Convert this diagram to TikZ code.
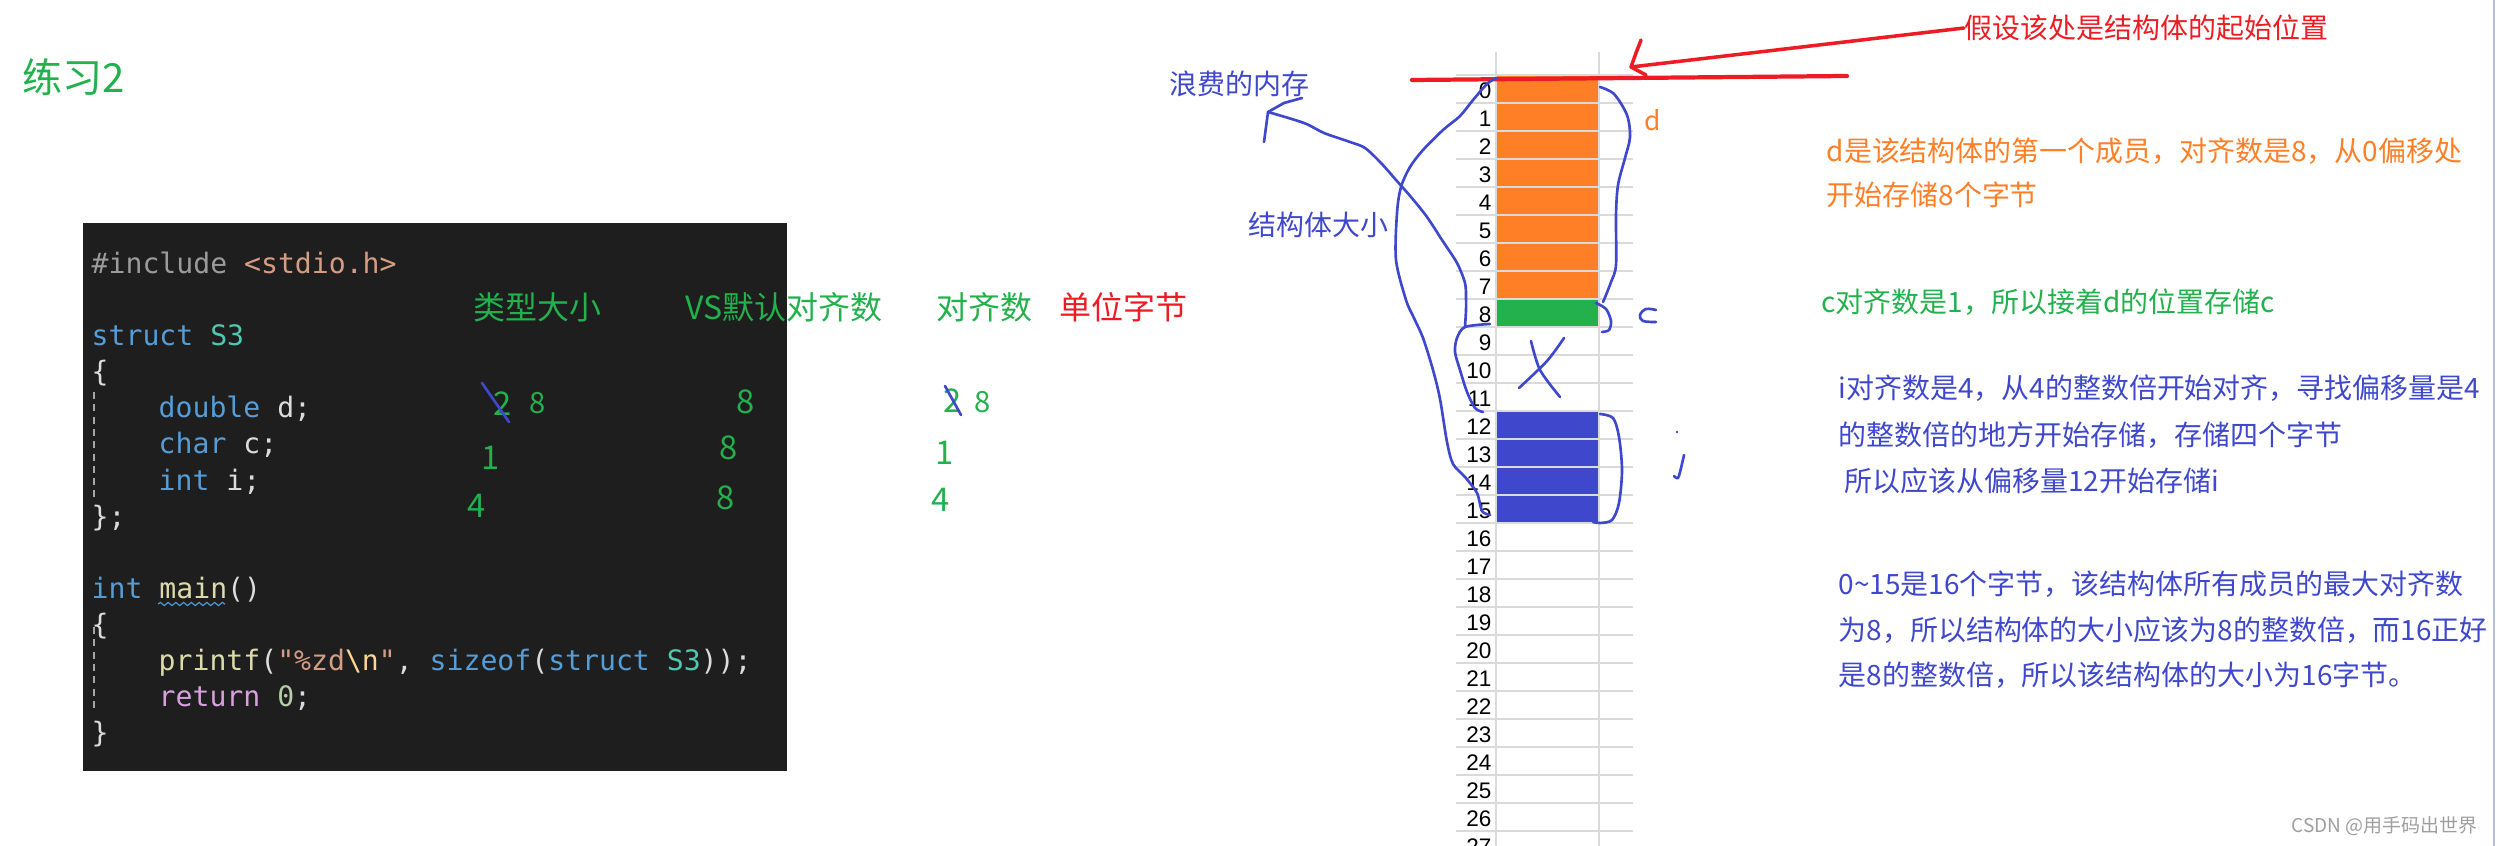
\documentclass[tikz,border=0pt]{standalone}
\usepackage{fontspec}
\setmainfont{Noto Sans CJK SC}
\newfontfamily\codefont{DejaVu Sans Mono}
\newfontfamily\rowfont{Liberation Sans}
\usetikzlibrary{decorations.pathmorphing}
\definecolor{pgreen}{RGB}{34,177,76}
\definecolor{porange}{RGB}{255,127,39}
\definecolor{pblue}{RGB}{63,72,204}
\definecolor{pred}{RGB}{237,28,36}
\definecolor{cbg}{RGB}{30,30,30}
\definecolor{ckw}{RGB}{86,156,214}
\definecolor{ctype}{RGB}{78,201,176}
\definecolor{cstr}{RGB}{214,157,133}
\definecolor{cfn}{RGB}{220,220,170}
\definecolor{cpl}{RGB}{220,220,220}
\definecolor{cpre}{RGB}{155,155,155}
\definecolor{cret}{RGB}{216,160,223}
\definecolor{cnum}{RGB}{181,206,168}
\definecolor{cesc}{RGB}{255,214,143}
\definecolor{csq}{RGB}{78,148,206}
\definecolor{gridc}{RGB}{218,218,218}
\definecolor{edgec}{RGB}{180,192,214}
\newcommand{\fsz}[1]{\fontsize{#1}{#1}\selectfont}
\begin{document}
\begin{tikzpicture}[x=0.01cm,y=-0.01cm,
  txt/.style={inner sep=0,anchor=west},
  code/.style={inner sep=0,anchor=base west,font=\codefont\fsz{8}},
  hand/.style={pblue,line width=0.75pt,line cap=round,line join=round},
  num/.style={inner sep=0,text=pgreen,font=\fsz{9.3}},
  snum/.style={inner sep=0,text=pgreen,font=\fsz{8.3}},
  hdr/.style={inner sep=0,anchor=west,text=pgreen,font=\fsz{9.1}},
  side/.style={inner sep=0,anchor=west,font=\fsz{7.95}},
  rown/.style={inner sep=0,anchor=east,font=\rowfont\fsz{6.4}}]
\useasboundingbox (0,0) rectangle (2497,846);
\fill[white] (0,0) rectangle (2497,846);

% title
\node[txt,text=pgreen,font=\fsz{11.4}] (title) at (22,77) {练习2};

% code box
\fill[cbg] (83,223) rectangle (787,771);
\node[code] (l0) at (91,274) {{\color{cpre}\#include} {\color{cstr}<stdio.h>}};
\node[code] (l2) at (91,346) {{\color{ckw}struct} {\color{ctype}S3}};
\node[code] (l3) at (91,382) {{\color{cpl}\{}};
\node[code] (l4) at (158,418) {{\color{ckw}double} {\color{cpl}d;}};
\node[code] (l5) at (158,454) {{\color{ckw}char} {\color{cpl}c;}};
\node[code] (l6) at (158,490) {{\color{ckw}int} {\color{cpl}i;}};
\node[code] (l7) at (91,526) {{\color{cpl}\};}};
\node[code] (l9) at (91,598) {{\color{ckw}int} {\color{cfn}main}{\color{cpl}()}};
\node[code] (l10) at (91,634) {{\color{cpl}\{}};
\node[code] (l11) at (158,670) {{\color{cfn}printf}{\color{cpl}(}{\color{cstr}"\%zd}{\color{cesc}\textbackslash n}{\color{cstr}"}{\color{cpl},} {\color{ckw}sizeof}{\color{cpl}(}{\color{ckw}struct} {\color{ctype}S3}{\color{cpl}));}};
\node[code] (l12) at (158,706) {{\color{cret}return} {\color{cnum}0}{\color{cpl};}};
\node[code] (l13) at (91,742) {{\color{cpl}\}}};
\draw[gray!70,line width=0.3pt,dash pattern=on 2pt off 1.5pt] (94,392) -- (94,497);
\draw[gray!70,line width=0.3pt,dash pattern=on 2pt off 1.5pt] (94,627) -- (94,712);
\draw[csq,line width=0.35pt,decorate,decoration={snake,amplitude=0.45pt,segment length=2.2pt}] (158,604) -- (225,604);

% headers
\node[hdr] (h1) at (473,307) {类型大小};
\node[hdr] (h2) at (685,307) {VS默认对齐数};
\node[hdr] (h3) at (936,307) {对齐数};
\node[hdr,text=pred] (h4) at (1059,307) {单位字节};

% numbers
\node[num] (a1) at (503,404) {2};
\node[snum] (a1b) at (538,403) {8};
\node[num] (b1) at (746,402) {8};
\node[num] (a2) at (491,458) {1};
\node[num] (b2) at (729,448) {8};
\node[num] (a3) at (477,506) {4};
\node[num] (b3) at (726,498) {8};
\node[num] (c1) at (953,401) {2};
\node[snum] (c1b) at (983,402) {8};
\node[num] (c2) at (945,453) {1};
\node[num] (c3) at (941,500) {4};
\draw[hand] (482,383) -- (509,422);
\draw[hand] (945,386) -- (961,415);

% memory table
\fill[porange] (1496,75) rectangle (1599,299);
\fill[pgreen] (1496,299) rectangle (1599,327);
\fill[pblue] (1496,411) rectangle (1599,523);
\foreach \k in {0,...,27} {
  \draw[gridc,line width=0.5pt] (1456,{75+28*\k}) -- (1633,{75+28*\k});
  \node[rown] at (1492,{91+28*\k}) {\k};
}
\draw[gridc,line width=0.5pt] (1496,52) -- (1496,846);
\draw[gridc,line width=0.5pt] (1599,52) -- (1599,846);

% red start line and arrow
\draw[pred,line width=1.2pt,line cap=round] (1412,80) -- (1847,76);
\node[side,text=pred] (rt) at (1964,28) {假设该处是结构体的起始位置};
\coordinate (rtip) at (1631,67);
\draw[pred,line width=1pt,line cap=round] (rt.west) -- (rtip);
\draw[pred,line width=1pt,line cap=round,line join=round] (1641,40) -- (1636,53) -- (rtip) -- (1646,75);

% blue labels
\node[side,text=pblue] (waste) at (1169,84) {浪费的内存};
\node[side,text=pblue] (size) at (1248,225) {结构体大小};

% hand drawn marks
\draw[hand] plot[smooth,tension=0.5] coordinates {(1600,87) (1614,94) (1627,115) (1630,137) (1625,158) (1618,185) (1616,215) (1616,265) (1611,282) (1606,295) (1603,302)};
\draw[hand] plot[smooth,tension=0.5] coordinates {(1596,303) (1606,309) (1611,321) (1609,330) (1602,332)};
\draw[hand] plot[smooth,tension=0.5] coordinates {(1600,414) (1613,418) (1619,437) (1622,470) (1619,503) (1612,520) (1600,523) (1593,522)};
\draw[hand] plot[smooth,tension=0.6] coordinates {(1656,310) (1646,309) (1640,315) (1643,321) (1656,322)};
\fill[pblue] (1677,432) circle (1.4);
\draw[hand] plot[smooth,tension=0.5] coordinates {(1684,455) (1681,468) (1678,478) (1674,476)};
\draw[hand] plot[smooth,tension=0.5] coordinates {(1531,341) (1540,370) (1560,397)};
\draw[hand] plot[smooth,tension=0.5] coordinates {(1564,338) (1547,361) (1519,388)};
\draw[hand] plot[smooth,tension=0.5] coordinates {(1497,78) (1488,83) (1473,100) (1460,116) (1443,130) (1423,150) (1410,167) (1401,187) (1397,213) (1396,260) (1406,300) (1413,316) (1423,338) (1433,370) (1440,399) (1447,442) (1453,464) (1465,477) (1477,493) (1482,511) (1490,515)};
\draw[hand] plot[smooth,tension=0.5] coordinates {(1490,324) (1465,327) (1457,338) (1455,352) (1460,370) (1467,392) (1475,408) (1483,412)};
\coordinate (wtip) at (1268,112);
\draw[hand] plot[smooth,tension=0.5] coordinates {(1465,327) (1466,310) (1466,298) (1465,283) (1457,263) (1442,240) (1427,217) (1411,197) (1396,180) (1381,163) (1365,148) (1350,142) (1324,133) (1304,123) (1268,112)};
\draw[hand] (1264,142) -- (wtip) -- (1284,103) -- (1302,98);

% right-hand notes
\node[inner sep=0,text=porange,font=\fsz{7.5}] (dl) at (1653,120) {d};
\node[side,text=porange] (t1) at (1826,151) {d是该结构体的第一个成员，对齐数是8，从0偏移处};
\node[side,text=porange] (t2) at (1826,195) {开始存储8个字节};
\node[side,text=pgreen] (t3) at (1821,302) {c对齐数是1，所以接着d的位置存储c};
\node[side,text=pblue] (t4) at (1838,388) {i对齐数是4，从4的整数倍开始对齐，寻找偏移量是4};
\node[side,text=pblue] (t5) at (1838,435) {的整数倍的地方开始存储，存储四个字节};
\node[side,text=pblue] (t6) at (1844,481) {所以应该从偏移量12开始存储i};
\node[side,text=pblue] (t7) at (1838,584) {0\textasciitilde15是16个字节，该结构体所有成员的最大对齐数};
\node[side,text=pblue] (t8) at (1838,630) {为8，所以结构体的大小应该为8的整数倍，而16正好};
\node[side,text=pblue] (t9) at (1838,675) {是8的整数倍，所以该结构体的大小为16字节。};

% watermark and right edge
\node[inner sep=0,anchor=east,text=gray!75,font=\fsz{5.4}] (wm) at (2478,826) {CSDN @用手码出世界};
\draw[edgec,line width=0.8pt] (2494,0) -- (2494,846);
\end{tikzpicture}
\end{document}
